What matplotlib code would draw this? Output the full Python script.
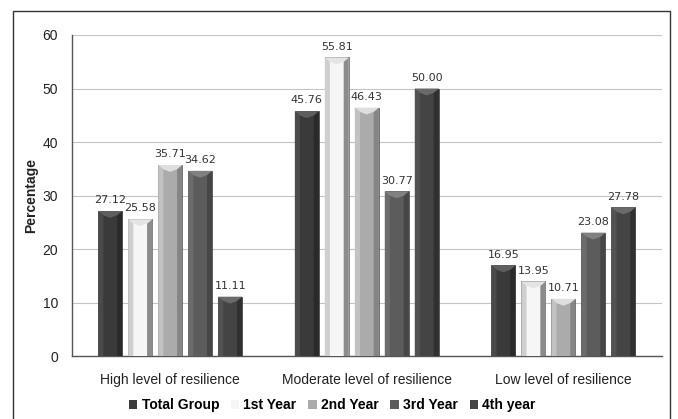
import numpy as np
import matplotlib.pyplot as plt
from matplotlib.patches import Polygon, Rectangle

# Resilience level by study year (percentages)

categories = ["High level of resilience", "Moderate level of resilience", "Low level of resilience"]
series = ["Total Group", "1st Year", "2nd Year", "3rd Year", "4th year"]
total_group = [27.12, 45.76, 16.95]
year_1 = [25.58, 55.81, 13.95]
year_2 = [35.71, 46.43, 10.71]
year_3 = [34.62, 30.77, 23.08]
year_4 = [11.11, 50.00, 27.78]
values = [total_group, year_1, year_2, year_3, year_4]

# face, left bevel, right bevel, top bevel
shades = [
    ("#3a3a3a", "#4a4a4a", "#2a2a2a", "#5e5e5e"),
    ("#f6f6f6", "#cfcfcf", "#8c8c8c", "#e4e4e4"),
    ("#ababab", "#c2c2c2", "#858585", "#dedede"),
    ("#5c5c5c", "#6c6c6c", "#464646", "#808080"),
    ("#444444", "#525252", "#303030", "#6a6a6a"),
]

plt.rcParams['font.family'] = ['Liberation Sans', 'DejaVu Sans']

fig = plt.figure(figsize=(6.78, 4.19), dpi=100)
ax = fig.add_axes([0.106, 0.150, 0.870, 0.7665])

x = np.arange(len(categories))
width = 0.122
pitch = 0.1525
bevel_x = 0.026
bevel_y = 0.8


def bevel_bar(ax, xc, h, w, cols):
    face, left, right, top = cols
    ax.bar(xc, h, w, color=face, edgecolor="#2a2a2a", linewidth=0.4, zorder=3)
    L, R = xc - w / 2, xc + w / 2
    b = bevel_x
    bh = min(bevel_y, h * 0.5)
    ax.add_patch(Polygon([(L, 0), (L, h), (L + b, h - bh), (L + b, 0)],
                         closed=True, fc=left, ec="none", zorder=4))
    ax.add_patch(Polygon([(R, 0), (R, h), (R - b, h - bh), (R - b, 0)],
                         closed=True, fc=right, ec="none", zorder=4))
    ax.add_patch(Polygon([(L, h), (R, h), (R - b, h - bh), (xc, h - 1.6 * bh), (L + b, h - bh)],
                         closed=True, fc=top, ec="none", zorder=4))


for i, (name, vals) in enumerate(zip(series, values)):
    offs = (i - 2) * pitch
    for j, v in enumerate(vals):
        bevel_bar(ax, x[j] + offs, v, width, shades[i])
        ax.text(x[j] + offs, v + 1.1, f"{v:.2f}", ha="center", va="bottom",
                fontsize=8, color="#333333", family=["DejaVu Sans"], zorder=5)
    # legend proxy
    ax.bar(0, 0, 0, color=shades[i][0], edgecolor="none", label=name)

ax.set_xlim(-0.5, 2.5)
ax.set_ylim(0, 60)
ax.set_yticks(range(0, 61, 10))
ax.set_xticks(x)
ax.set_xticklabels(categories, fontsize=10, color="#222222")
ax.tick_params(axis="x", length=0, pad=12)
ax.tick_params(axis="y", length=0, pad=10, labelsize=10, labelcolor="#222222")
ax.yaxis.grid(True, color="#c4c4c4", linewidth=0.8, zorder=0)
ax.set_axisbelow(True)
for s in ["top", "right"]:
    ax.spines[s].set_visible(False)
for s in ["left", "bottom"]:
    ax.spines[s].set_color("#555555")
    ax.spines[s].set_linewidth(1.0)
ax.set_ylabel("Percentage", fontsize=10, fontweight="bold", color="#222222", labelpad=3)

handles, labels = ax.get_legend_handles_labels()
fig.legend(handles, labels, loc="center", bbox_to_anchor=(0.49, 0.033), ncol=5,
           frameon=False, prop={"weight": "bold", "size": 10}, handlelength=0.6,
           handleheight=0.6, handletextpad=0.3, columnspacing=0.85)

# outer frame of the figure panel
fig.patches.append(Rectangle((13 / 678, -0.05), (670 - 13) / 678, 1.05 - 11 / 419,
                             transform=fig.transFigure, fill=False,
                             edgecolor="#333333", linewidth=1.0))

fig.savefig("out.png", dpi=100, facecolor="white")
